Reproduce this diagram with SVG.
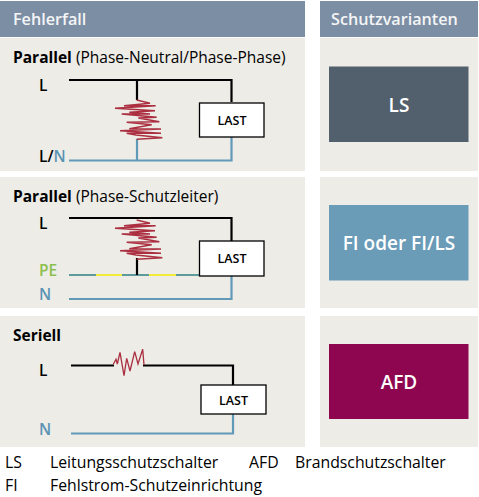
<svg xmlns="http://www.w3.org/2000/svg" width="479" height="497" viewBox="0 0 479 497">
<style>
text{font-family:"Open Sans","Noto Sans",sans-serif;fill:#000}
.hd{fill:#7c8ea4}
.pn{fill:#edece7}
.ht{font-size:16.200px;font-weight:600;fill:#f4f5f6}
.tt{font-size:15.500px}
.b{font-weight:700}
.lb{font-size:15.500px;font-weight:600}
.blue{fill:#5a93b3}
.bl{stroke:#000;stroke-width:2.200;fill:none}
.nl{stroke:#6199b8;stroke-width:2.200;fill:none}
.box{fill:#fff;stroke:#000;stroke-width:1.300}
.lt{font-size:12.500px;font-weight:600;text-anchor:middle}
.zz{stroke:#ab2f40;fill:none;stroke-linejoin:miter}
.big{font-size:19px;font-weight:600;fill:#fff;text-anchor:middle}
.lg{font-size:15.800px}
</style>
<defs>
<g id="zig"><polyline class="zz" transform="translate(100,90) scale(.3333)" style="stroke-width:4.500" points="110,30 150,40 72,47 167,47 45,55 165,62 88,67 150,72 65,72 170,82 115,84 178,95 80,97 155,104 88,116 183,117 60,122 183,130 80,130 108,135 187,143 110,148"/></g>
</defs>
<g id="headers">
<rect class="hd" x="0" y="1" width="305" height="36"/>
<text class="ht" x="13" y="25">Fehlerfall</text>
<rect class="hd" x="320" y="1" width="158" height="36"/>
<text class="ht" x="331" y="25">Schutzvarianten</text>
</g>
<g id="panel-parallel-pn">
<rect class="pn" x="0" y="38" width="305" height="133"/>
<text class="tt" x="13" y="63"><tspan class="b">Parallel</tspan> (Phase-Neutral/Phase-Phase)</text>
<text class="lb" x="39" y="90.500">L</text>
<text class="lb" x="39" y="162">L/<tspan class="blue">N</tspan></text>
</g>
<g id="panel-parallel-pe">
<rect class="pn" x="0" y="177" width="305" height="131"/>
<text class="tt" x="13" y="202"><tspan class="b">Parallel</tspan> (Phase-Schutzleiter)</text>
<text class="lb" x="39" y="228.500">L</text>
<text class="lb" x="39" y="276" style="fill:#8cbf4d">PE</text>
<text class="lb" x="39" y="300" style="fill:#5a93b3">N</text>
</g>
<g id="panel-seriell">
<rect class="pn" x="0" y="316" width="305" height="131"/>
<text class="tt b" x="13" y="341">Seriell</text>
<text class="lb" x="39" y="375.500">L</text>
<text class="lb" x="39" y="435" style="fill:#5a93b3">N</text>
</g>
<g id="connectors">
<path class="bl" d="M69 80H231.500V102M137 80V100"/>
<path class="nl" d="M69 160.500H231.500V137M137 160.500V139"/>
<use href="#zig"/>
<path class="bl" d="M69 218H231.500V241"/>
<path class="nl" d="M69 299H231.500V276"/>
<path d="M69 275H96M122 275H149M176 275H199" stroke="#5c9a9c" stroke-width="2.200" fill="none"/>
<path d="M96 275H122M149 275H176" stroke="#f3ea3a" stroke-width="2.200" fill="none"/>
<path class="bl" d="M137 258V275"/>
<use href="#zig" y="120"/>
<path class="bl" d="M71 365.500H114M143 365.500H233V385"/>
<path class="nl" d="M71 433.500H233V414"/>
<polyline class="zz" style="stroke-width:1.300" points="113.300,364.300 116,359.300 117.300,364 120,352.300 124,375.700 126.700,358.300 130,371 134.700,351.700 138,364 142.700,349.300 144,365"/>
</g>
<g id="load-1"><rect class="box" x="199.500" y="103" width="64.500" height="34"/><text class="lt" x="232" y="124.500">LAST</text></g>
<g id="load-2"><rect class="box" x="199.500" y="241" width="64.500" height="35"/><text class="lt" x="232" y="263">LAST</text></g>
<g id="load-3"><rect class="box" x="201" y="385" width="65" height="29"/><text class="lt" x="233.500" y="404.500">LAST</text></g>
<g id="var-ls">
<rect class="pn" x="320" y="38" width="158" height="133"/>
<rect x="329" y="66.500" width="139.500" height="75.500" fill="#525f6d"/>
<text class="big" x="399" y="112">LS</text>
</g>
<g id="var-fi">
<rect class="pn" x="320" y="177" width="158" height="131"/>
<rect x="329" y="205" width="139.500" height="75.500" fill="#6a9bb7"/>
<text class="big" x="399" y="250">FI oder FI/LS</text>
</g>
<g id="var-afd">
<rect class="pn" x="320" y="316" width="158" height="131"/>
<rect x="329" y="344" width="139.500" height="75" fill="#8e0650"/>
<text class="big" x="399" y="389">AFD</text>
</g>
<g id="legend">
<text class="lg" x="5" y="468">LS</text>
<text class="lg" x="50" y="468">Leitungsschutzschalter</text>
<text class="lg" x="249" y="468">AFD</text>
<text class="lg" x="295" y="468">Brandschutzschalter</text>
<text class="lg" x="5" y="491">FI</text>
<text class="lg" x="50" y="491">Fehlstrom-Schutzeinrichtung</text>
</g>
</svg>
